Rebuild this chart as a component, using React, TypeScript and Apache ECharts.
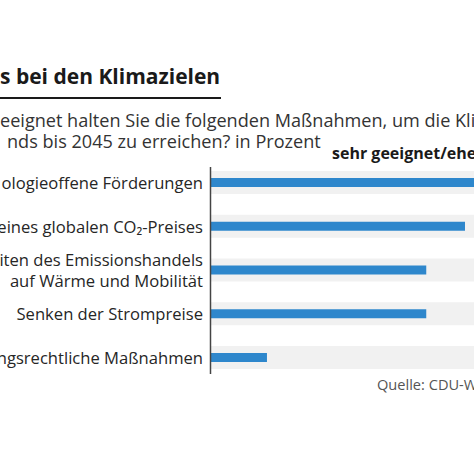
import React, { useEffect, useRef } from "react";
import * as echarts from "echarts";

const categories = [
  "ologieoffene Förderungen",
  "eines globalen CO₂-Preises",
  "iten des Emissionshandels\nauf Wärme und Mobilität",
  "Senken der Strompreise",
  "ngsrechtliche Maßnahmen",
];
const values = [65, 59, 50, 50, 13];
const bandValues = [100, 100, 100, 100, 100];

const titleText = "s bei den Klimazielen";
const subtitleLines = [
  "eeignet halten Sie die folgenden Maßnahmen, um die Kli",
  "nds bis 2045 zu erreichen? in Prozent",
];
const seriesHeader = "sehr geeignet/ehe";
const sourceText = "Quelle: CDU-W";

const FONT = "'Open Sans', sans-serif";

export default function App() {
  const ref = useRef<HTMLDivElement>(null);
  useEffect(() => {
    if (!ref.current) return;
    const chart = echarts.init(ref.current, null, { renderer: "svg" });
    chart.setOption({
      animation: false,
      backgroundColor: "#ffffff",
      grid: {
        left: 211,
        width: 430.5,
        top: 160.5,
        height: 218.75,
        containLabel: false,
        outerBoundsMode: "none",
      },
      xAxis: { type: "value", min: 0, max: 100, show: false },
      yAxis: [
        {
          type: "category",
          data: categories,
          inverse: true,
          axisLine: { show: false },
          axisTick: { show: false },
          axisLabel: {
            margin: 8,
            fontSize: 16.6,
            fontFamily: FONT,
            color: "#262626",
            lineHeight: 21,
            align: "right",
          },
        },
        { type: "category", data: categories, inverse: true, show: false },
      ],
      series: [
        {
          type: "bar",
          yAxisIndex: 1,
          data: bandValues,
          barWidth: 23,
          silent: true,
          itemStyle: { color: "#f1f1f1" },
          z: 1,
        },
        {
          type: "bar",
          yAxisIndex: 0,
          data: values,
          barWidth: 9,
          itemStyle: { color: "#2e87cc" },
          z: 2,
        },
      ],
      graphic: [
        {
          type: "text",
          left: 0,
          top: 65,
          style: { text: titleText, font: `bold 21px ${FONT}`, fill: "#1a1a1a" },
        },
        {
          type: "rect",
          shape: { x: 0, y: 97, width: 221, height: 2 },
          style: { fill: "#1a1a1a" },
        },
        {
          type: "text",
          left: 0,
          top: 110,
          style: { text: subtitleLines[0], font: `18.1px ${FONT}`, fill: "#333333", lineHeight: 20 },
        },
        {
          type: "text",
          left: 7,
          top: 131,
          style: { text: subtitleLines[1], font: `18.1px ${FONT}`, fill: "#333333", lineHeight: 20 },
        },
        {
          type: "text",
          left: 332,
          top: 145,
          style: { text: seriesHeader, font: `bold 16px ${FONT}`, fill: "#1a1a1a" },
        },
        {
          type: "line",
          shape: { x1: 210.5, y1: 167, x2: 210.5, y2: 374 },
          style: { stroke: "#444444", lineWidth: 1.5 },
          z: 10,
        },
        {
          type: "text",
          left: 377,
          top: 376,
          style: { text: sourceText, font: `14.6px ${FONT}`, fill: "#555555" },
        },
      ],
    });
    return () => chart.dispose();
  }, []);
  return (
    <div
      style={{ position: "absolute", left: 0, top: 0, width: 474, height: 463, overflow: "hidden", background: "#fff" }}
    >
      <div ref={ref} style={{ width: 642, height: 463 }} />
    </div>
  );
}
